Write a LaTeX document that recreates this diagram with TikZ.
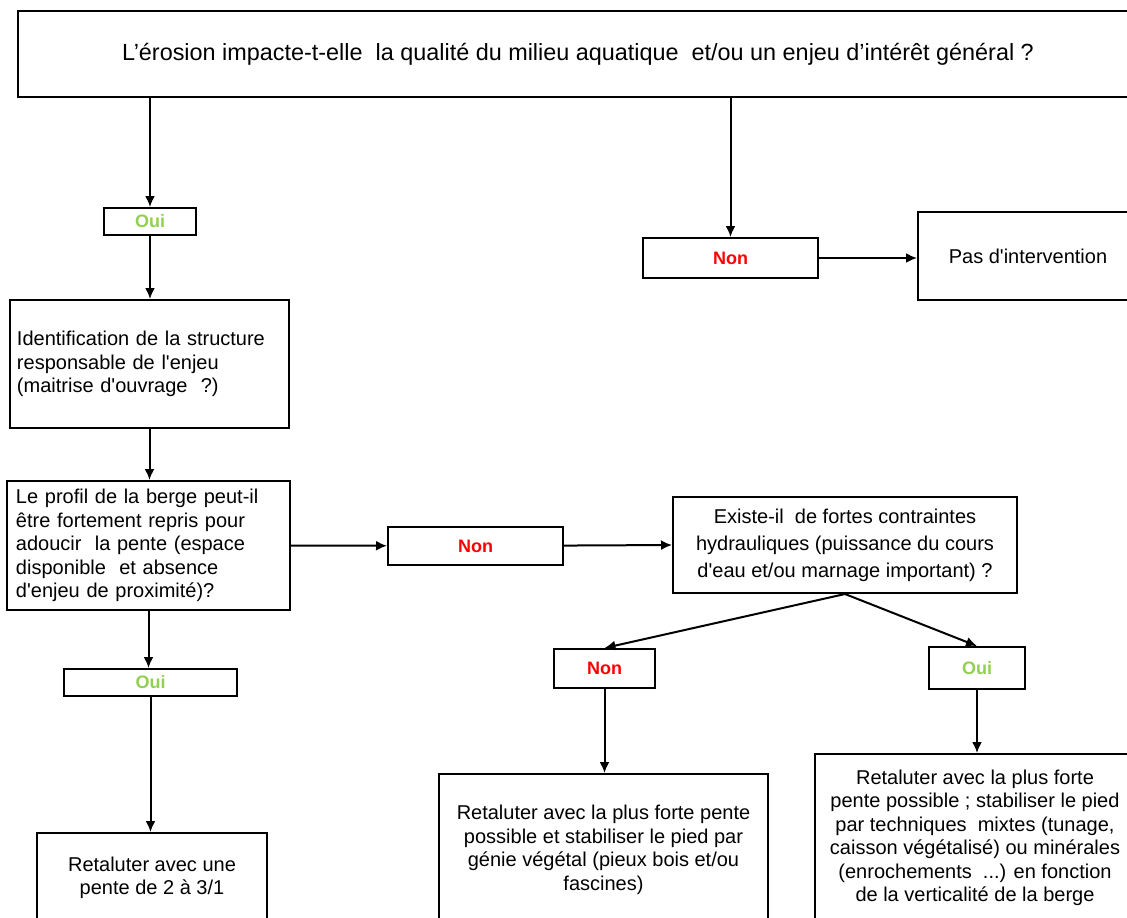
\documentclass[tikz,border=0pt]{standalone}
\usepackage{fontspec}
\setmainfont{Liberation Sans}[Ligatures=TeXOff]
\usetikzlibrary{arrows.meta}
\definecolor{ouigreen}{RGB}{146,208,80}

\begin{document}
\begin{tikzpicture}[x=0.5pt,y=-0.5pt,
    box/.style={draw, line width=1pt, inner sep=0pt, align=center, font=\fontsize{10}{11.75}\selectfont},
    oui/.style={box, text=ouigreen, font=\fontsize{9}{10}\selectfont\bfseries},
    non/.style={box, text=red, font=\fontsize{9}{10}\selectfont\bfseries},
    arr/.style={-{Latex[length=5.5pt,width=5pt]}, line width=1pt}]
    \clip (0,0) rectangle (1127,917);
    % question de depart
    \node [box, font=\fontsize{11.7}{13}\selectfont, minimum width=560pt, minimum height=43pt] (top) at (578,54) {L’érosion impacte-t-elle \ la qualité du milieu aquatique \ et/ou un enjeu d’intérêt général ?};
    \node [oui, minimum width=46pt, minimum height=13.5pt] (oui1) at (150,221.5) {Oui};
    \node [non, minimum width=87.5pt, minimum height=20pt] (non1) at (730.5,258) {Non};
    \node [box, minimum width=110pt, minimum height=44pt] (pas) at (1028,256) {Pas d'intervention};
    \node [box, align=left, inner xsep=3.5pt, text width=132.5pt, minimum width=139.5pt, minimum height=64pt] (ident) at (149.5,364)
        {Identification de la structure\\ responsable de l'enjeu\\ (maitrise d'ouvrage \ ?)};
    % profil de la berge
    \node [box, align=left, inner xsep=4.5pt, text width=132.5pt, minimum width=141.5pt, minimum height=64.5pt] (profil) at (148.5,545.5)
        {Le profil de la berge peut-il\\ être fortement repris pour\\ adoucir \ la pente (espace\\ disponible \ et absence\\ d'enjeu de proximité)?};
    \node [non, minimum width=87.5pt, minimum height=19pt] (nonm) at (475.5,546) {Non};
    \node [box, font=\fontsize{10}{13.5}\selectfont, minimum width=172pt, minimum height=48pt] (existe) at (845,545)
        {Existe-il \ de fortes contraintes\\ hydrauliques (puissance du cours\\ d'eau et/ou marnage important) ?};
    \node [non, minimum width=50.5pt, minimum height=19.5pt] (non2) at (604.5,668.5) {Non};
    \node [oui, minimum width=48pt, minimum height=21pt] (oui2) at (977,668) {Oui};
    \node [oui, minimum width=86.5pt, minimum height=13.5pt] (oui3) at (150.5,682.5) {Oui};
    % solutions
    \node [box, minimum width=164.5pt, minimum height=76pt] (retalC) at (603.5,850)
        {Retaluter avec la plus forte pente\\ possible et stabiliser le pied par\\ génie végétal (pieux bois et/ou\\ fascines)};
    \node [box, minimum width=160pt, minimum height=84pt] (retalD) at (975,838)
        {Retaluter avec la plus forte\\ pente possible ; stabiliser le pied\\ par techniques \ mixtes (tunage,\\ caisson végétalisé) ou minérales\\ (enrochements \ ...) en fonction\\ de la verticalité de la berge};
    \node [box, minimum width=115pt, minimum height=45pt] (retalE) at (152,878)
        {Retaluter avec une\\ pente de 2 à 3/1};
    % fleches
    \draw [arr] (oui1 |- top.south) -- (oui1);
    \draw [arr] (non1 |- top.south) -- (non1);
    \draw [arr] (non1.east) -- (non1.east -| pas.west);
    \draw [arr] (oui1) -- (oui1 |- ident.north);
    \draw [arr] (ident.south) -- (ident.south |- profil.north);
    \draw [arr] (profil.east) -- (nonm);
    \draw [arr] (nonm) -- (existe.west);
    \draw [arr] (profil.south) -- (profil.south |- oui3.north);
    \draw [arr] (oui3) -- (oui3 |- retalE.north);
    \draw [arr] (existe.south) -- (non2.north);
    \draw [arr] (existe.south) -- (oui2.north);
    \draw [arr] (non2) -- (non2 |- retalC.north);
    \draw [arr] (oui2) -- (oui2 |- retalD.north);
\end{tikzpicture}
\end{document}
